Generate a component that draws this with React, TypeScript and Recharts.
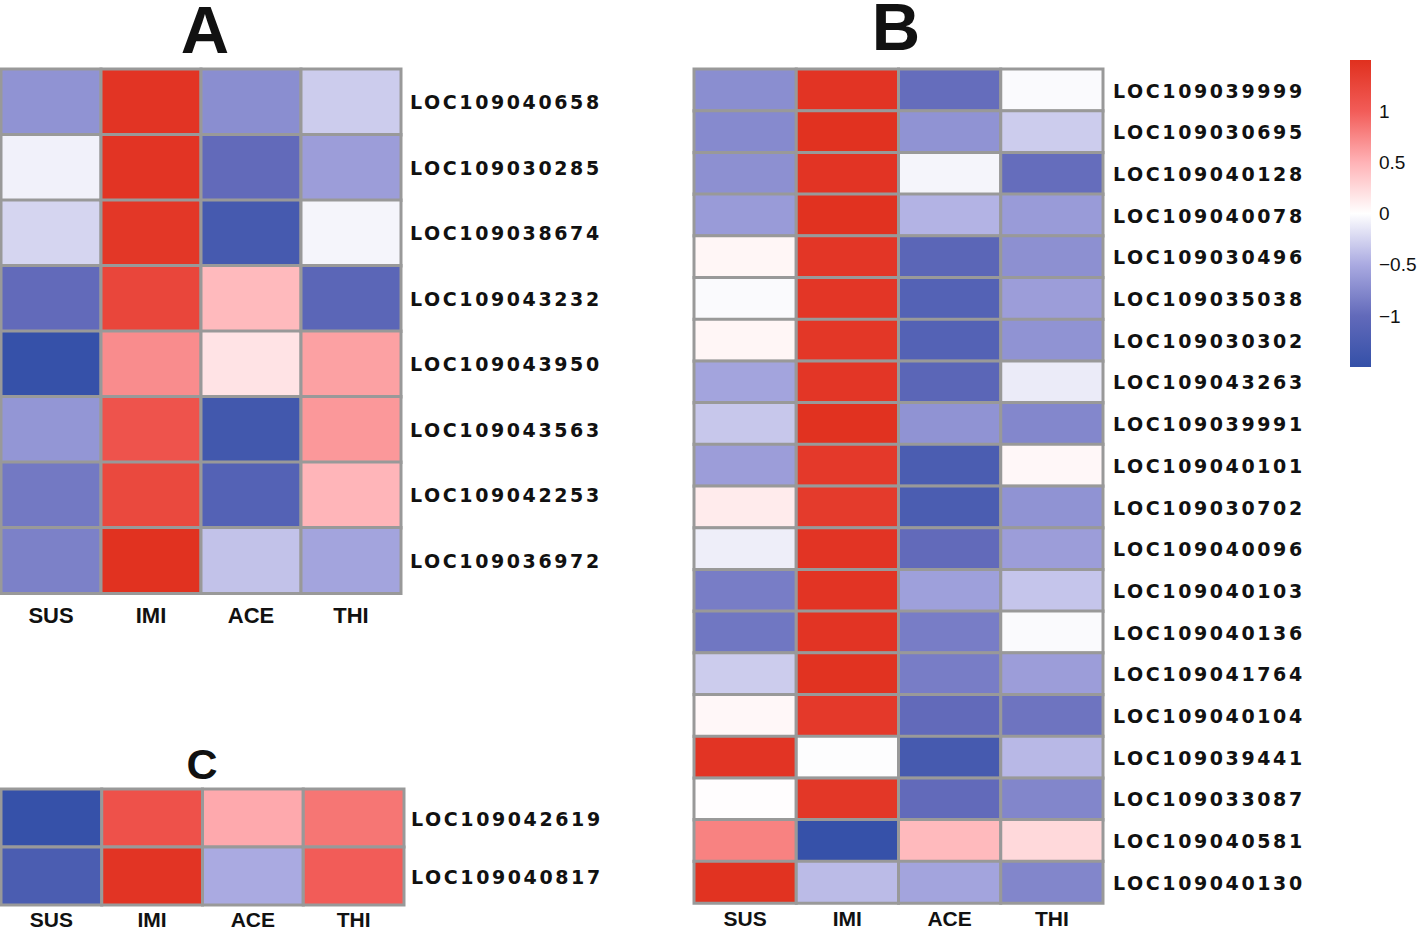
import { BarChart, Bar, Cell, XAxis, YAxis } from "recharts";

const conditions = ["SUS", "IMI", "ACE", "THI"];

const genesA = [
  "LOC109040658", "LOC109030285", "LOC109038674", "LOC109043232",
  "LOC109043950", "LOC109043563", "LOC109042253", "LOC109036972",
];
// rows follow genesA, columns follow conditions
const valuesA = [
  [-0.68, 1.45, -0.72, -0.3],
  [-0.08, 1.45, -1.0, -0.6],
  [-0.25, 1.42, -1.3, -0.06],
  [-1.0, 1.25, 0.45, -1.08],
  [-1.48, 0.72, 0.18, 0.6],
  [-0.66, 1.1, -1.35, 0.65],
  [-0.88, 1.22, -1.15, 0.48],
  [-0.82, 1.48, -0.36, -0.55],
];

const genesB = [
  "LOC109039999", "LOC109030695", "LOC109040128", "LOC109040078", "LOC109030496",
  "LOC109035038", "LOC109030302", "LOC109043263", "LOC109039991", "LOC109040101",
  "LOC109030702", "LOC109040096", "LOC109040103", "LOC109040136", "LOC109041764",
  "LOC109040104", "LOC109039441", "LOC109033087", "LOC109040581", "LOC109040130",
];
const valuesB = [
  [-0.72, 1.45, -0.98, -0.03],
  [-0.75, 1.48, -0.68, -0.3],
  [-0.7, 1.45, -0.06, -0.98],
  [-0.62, 1.48, -0.45, -0.62],
  [0.06, 1.43, -1.08, -0.7],
  [-0.03, 1.43, -1.15, -0.6],
  [0.06, 1.42, -1.15, -0.68],
  [-0.55, 1.43, -1.08, -0.12],
  [-0.33, 1.48, -0.68, -0.77],
  [-0.6, 1.4, -1.25, 0.05],
  [0.13, 1.38, -1.25, -0.68],
  [-0.1, 1.45, -1.0, -0.6],
  [-0.85, 1.45, -0.58, -0.34],
  [-0.9, 1.45, -0.85, -0.03],
  [-0.3, 1.47, -0.85, -0.6],
  [0.05, 1.4, -1.0, -0.92],
  [1.45, -0.01, -1.3, -0.42],
  [0.01, 1.42, -1.0, -0.78],
  [0.78, -1.48, 0.45, 0.25],
  [1.47, -0.4, -0.55, -0.78],
];

const genesC = ["LOC109042619", "LOC109040817"];
const valuesC = [
  [-1.48, 1.12, 0.55, 0.85],
  [-1.25, 1.45, -0.5, 1.0],
];

const legendTicks = [-1, -0.5, 0, 0.5, 1];
const legendDomain = [-1.5, 1.5];

const colorStops: [number, number[]][] = [
  [-1.5, [52, 80, 168]],
  [-1.0, [98, 106, 186]],
  [-0.5, [170, 170, 225]],
  [0, [255, 255, 255]],
  [0.5, [255, 178, 182]],
  [1.0, [242, 92, 88]],
  [1.5, [224, 48, 30]],
];

function heatColor(v: number) {
  const x = Math.max(-1.5, Math.min(1.5, v));
  for (let i = 0; i < colorStops.length - 1; i++) {
    const [a, ca] = colorStops[i];
    const [b, cb] = colorStops[i + 1];
    if (x >= a && x <= b) {
      const t = (x - a) / (b - a);
      const c = ca.map((k, j) => Math.round(k + (cb[j] - k) * t));
      return `rgb(${c[0]},${c[1]},${c[2]})`;
    }
  }
  return "#fff";
}

const labelFont = "Arial, 'Liberation Sans', sans-serif";

function Heatmap({ genes, values, width, height, margin, xGap, yGap, xHeight, colFont = 22 }: any) {
  const rows = genes.map((gene: string) => ({ gene, SUS: 1, IMI: 1, ACE: 1, THI: 1 }));
  return (
    <BarChart
      layout="vertical"
      width={width}
      height={height}
      data={rows}
      margin={margin}
      barCategoryGap={0}
      barGap={0}
    >
      <XAxis
        type="number"
        domain={[0, 4]}
        ticks={[0.5, 1.5, 2.5, 3.5]}
        interval={0}
        tickFormatter={(v: number) => conditions[Math.floor(v)]}
        axisLine={false}
        tickLine={false}
        tickSize={0}
        tickMargin={xGap}
        height={xHeight}
        tick={{ fill: "#111", fontSize: colFont, fontWeight: 700, fontFamily: labelFont }}
      />
      <YAxis
        type="category"
        dataKey="gene"
        orientation="right"
        width={230}
        interval={0}
        axisLine={false}
        tickLine={false}
        tickSize={0}
        tickMargin={yGap}
        tick={{
          fill: "#111",
          fontSize: 19,
          fontWeight: 700,
          fontFamily: "'DejaVu Sans', sans-serif",
          letterSpacing: 2.6,
          textAnchor: "start",
          dy: 1,
        }}
      />
      {conditions.map((c, ci) => (
        <Bar key={c} dataKey={c} stackId="cells" isAnimationActive={false}>
          {values.map((row: number[], ri: number) => (
            <Cell key={ri} fill={heatColor(row[ci])} stroke="#999999" strokeWidth={3} />
          ))}
        </Bar>
      ))}
    </BarChart>
  );
}

function ColorKey() {
  const data = [{ name: "key", range: legendDomain }];
  return (
    <BarChart width={94} height={350} data={data} margin={{ top: 20, right: 0, bottom: 23, left: 20 }} barCategoryGap={0}>
      <defs>
        <linearGradient id="keyGrad" x1="0" y1="0" x2="0" y2="1">
          {colorStops
            .slice()
            .reverse()
            .map(([v, c]) => (
              <stop key={v} offset={(1.5 - v) / 3} stopColor={`rgb(${c[0]},${c[1]},${c[2]})`} />
            ))}
        </linearGradient>
      </defs>
      <XAxis dataKey="name" hide />
      <YAxis
        type="number"
        domain={legendDomain}
        ticks={legendTicks}
        interval={0}
        orientation="right"
        width={53}
        axisLine={false}
        tickLine={false}
        tickSize={0}
        tickMargin={8}
        tickFormatter={(v: number) => String(v).replace("-", "\u2212")}
        tick={{ fill: "#111", fontSize: 19, fontFamily: labelFont, textAnchor: "start" }}
      />
      <Bar dataKey="range" fill="url(#keyGrad)" isAnimationActive={false} />
    </BarChart>
  );
}

export default function App() {
  return (
    <div style={{ position: "absolute", left: 0, top: 0, width: 1424, height: 932, background: "#fff", overflow: "hidden" }}>
      <div style={{ position: "absolute", left: 0, top: 0 }}>
        <Heatmap
          genes={genesA}
          values={valuesA}
          width={640}
          height={640}
          margin={{ top: 69, right: 9, bottom: 7, left: 1 }}
          xGap={14}
          yGap={9}
          xHeight={40}
        />
      </div>
      <div style={{ position: "absolute", left: 0, top: 0 }}>
        <Heatmap
          genes={genesB}
          values={valuesB}
          width={1340}
          height={932}
          margin={{ top: 69, right: 7, bottom: 4, left: 694 }}
          xGap={8}
          yGap={10}
          xHeight={25}
          colFont={21}
        />
      </div>
      <div style={{ position: "absolute", left: 0, top: 740 }}>
        <Heatmap
          genes={genesC}
          values={valuesC}
          width={640}
          height={192}
          margin={{ top: 49, right: 6, bottom: 2, left: 1 }}
          xGap={7}
          yGap={7}
          xHeight={25}
          colFont={21}
        />
      </div>
      <div style={{ position: "absolute", left: 1330, top: 40 }}>
        <ColorKey />
      </div>
      <svg width={1424} height={932} style={{ position: "absolute", left: 0, top: 0, pointerEvents: "none" }}>
        <g fill="#111" fontFamily={labelFont} fontWeight={700} textAnchor="middle">
          <text x={205} y={53} fontSize={67}>A</text>
          <text x={896} y={50} fontSize={67}>B</text>
          <text x={202} y={779} fontSize={43}>C</text>
        </g>
      </svg>
    </div>
  );
}
